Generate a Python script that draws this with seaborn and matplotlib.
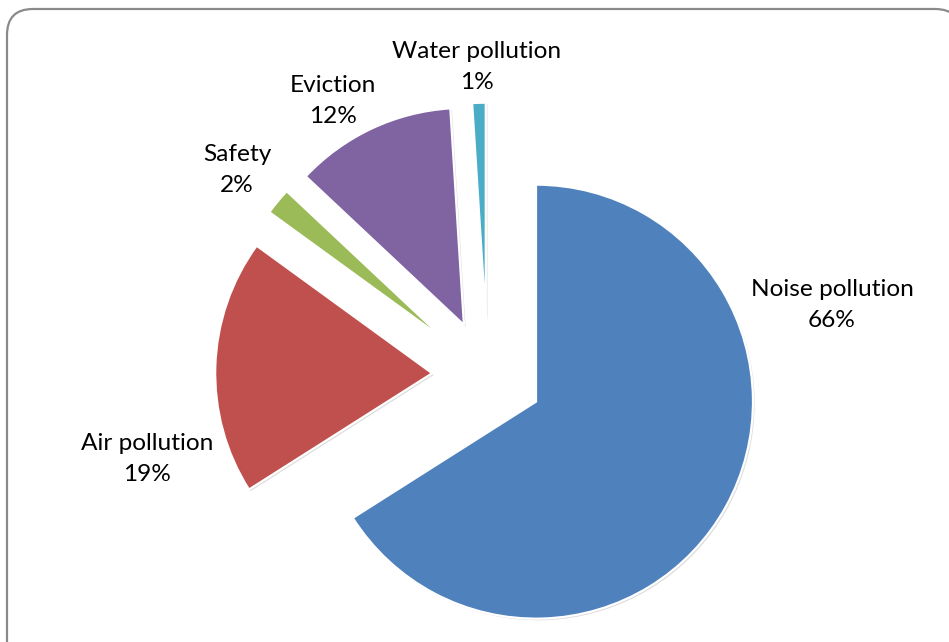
import matplotlib
matplotlib.use("Agg")
import matplotlib.pyplot as plt
from matplotlib.patches import FancyBboxPatch
import seaborn as sns

# Survey results: share of complaints by category
categories = ["Noise pollution", "Air pollution", "Safety", "Eviction", "Water pollution"]
shares = [66, 19, 2, 12, 1]
colors = ["#4F81BD", "#C0504D", "#9BBB59", "#8064A2", "#4BACC6"]
explode_frac = [0.255, 0.255, 0.255, 0.255, 0.255]

sns.set_theme(style="white")
plt.rcParams["font.family"] = ["Lato", "DejaVu Sans"]

W, H = 949, 642
fig = plt.figure(figsize=(W / 100, H / 100), dpi=100)
fig.patch.set_facecolor("white")
ax = fig.add_axes([0, 0, 1, 1])

# Rounded frame around the chart area
frame = FancyBboxPatch((7, -30), 954, 642 - 9 + 30,
                       boxstyle="round,pad=0,rounding_size=26",
                       facecolor="white", edgecolor="#8a8a8a", linewidth=1.6,
                       zorder=0)
ax.add_patch(frame)

radius = 217
cx, cy = 487.5, H - 375
palette = sns.color_palette(colors)
wedges, _ = ax.pie(
    shares,
    explode=[e * radius for e in explode_frac],
    colors=palette,
    startangle=90,
    counterclock=False,
    radius=radius,
    center=(cx, cy),
    frame=True,
    wedgeprops=dict(edgecolor="white", linewidth=1.6),
    shadow=dict(ox=1.2, oy=-1.2, facecolor="#b0b0b0", edgecolor="none", alpha=0.45),
)
ax.set_xlim(0, W)
ax.set_ylim(0, H)
ax.axis("off")

# Category labels with percentages
label_pos = {
    "Noise pollution": (832, 305),
    "Air pollution": (147, 459),
    "Safety": (237, 170),
    "Eviction": (333, 101),
    "Water pollution": (477, 67),
}
for name, val in zip(categories, shares):
    x, y = label_pos[name]
    ax.text(x, H - y, f"{name}\n{val}%", ha="center", va="center",
            fontsize=17.6, color="#000000", linespacing=1.55)

fig.savefig("out.png", dpi=100, facecolor="white")
